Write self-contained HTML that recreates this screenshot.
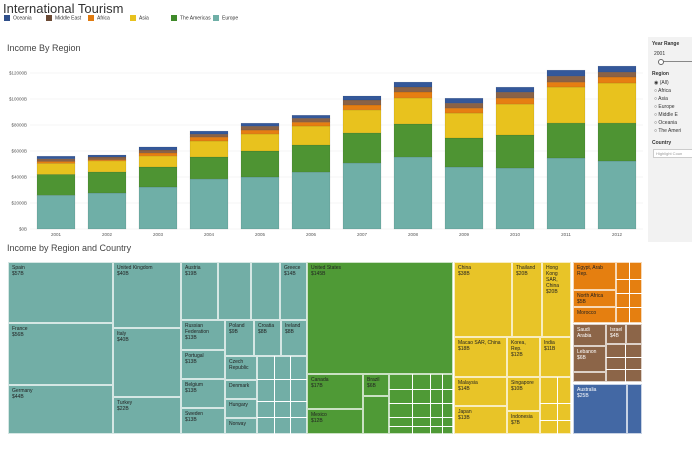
<!DOCTYPE html>
<html><head><meta charset="utf-8"><style>
body{margin:0;width:692px;height:449px;background:#fff;font-family:"Liberation Sans",sans-serif;position:relative;overflow:hidden}
.a{position:absolute}
.t{position:absolute;font-size:5px;color:#222;line-height:6px;padding:2px 3px;box-sizing:border-box;overflow:hidden;border:1px solid rgba(255,255,255,.7)}
.lg{position:absolute;top:15px;font-size:5px;color:#333}
.lg i{display:inline-block;width:6px;height:6px;vertical-align:middle;margin-right:3px}
.rp{position:absolute;font-size:5px;color:#333}
</style></head><body>
<div class="a" style="left:3px;top:1px;font-size:13px;color:#333">International Tourism</div>
<div class="lg" style="left:4px"><i style="background:#2f4f8a"></i>Oceania</div>
<div class="lg" style="left:46px"><i style="background:#6b4a35"></i>Middle East</div>
<div class="lg" style="left:88px"><i style="background:#e07b10"></i>Africa</div>
<div class="lg" style="left:130px"><i style="background:#e8c21e"></i>Asia</div>
<div class="lg" style="left:171px"><i style="background:#3f8a2a"></i>The Americas</div>
<div class="lg" style="left:213px"><i style="background:#6fafa7"></i>Europe</div>
<div class="a" style="left:7px;top:43px;font-size:9px;color:#444">Income By Region</div>
<div class="a" style="left:7px;top:243px;font-size:9px;color:#444">Income by Region and Country</div>

<div class="a" style="left:648px;top:37px;width:44px;height:205px;background:#f2f2f2"></div>
<div class="rp" style="left:652px;top:41px;font-weight:bold">Year Range</div>
<div class="rp" style="left:654px;top:51px">2001</div>
<div class="a" style="left:660px;top:61px;width:32px;height:1px;background:#888"></div>
<div class="a" style="left:658px;top:59px;width:4px;height:4px;border:1px solid #666;border-radius:50%;background:#fff"></div>
<div class="rp" style="left:652px;top:71px;font-weight:bold">Region</div>
<div class="rp" style="left:654px;top:80px">◉ (All)</div>
<div class="rp" style="left:654px;top:88px">○ Africa</div>
<div class="rp" style="left:654px;top:96px">○ Asia</div>
<div class="rp" style="left:654px;top:104px">○ Europe</div>
<div class="rp" style="left:654px;top:112px">○ Middle E</div>
<div class="rp" style="left:654px;top:120px">○ Oceania</div>
<div class="rp" style="left:654px;top:128px">○ The Ameri</div>
<div class="rp" style="left:652px;top:140px;font-weight:bold">Country</div>
<div class="rp" style="left:653px;top:149px;width:38px;height:7px;background:#fff;border:1px solid #ccc;color:#999;font-size:4px;line-height:7px;padding-left:2px">Highlight Coun</div>

<svg class="a" style="left:0;top:0" width="692" height="240" id="bc"></svg>

<div id="tm">
<!-- Europe -->
<div class="t" style="left:8px;top:262px;width:105px;height:61px;background:#72aea6">Spain<br>$57B</div>
<div class="t" style="left:8px;top:323px;width:105px;height:62px;background:#72aea6">France<br>$56B</div>
<div class="t" style="left:8px;top:385px;width:105px;height:49px;background:#72aea6">Germany<br>$44B</div>
<div class="t" style="left:113px;top:262px;width:68px;height:66px;background:#72aea6">United Kingdom<br>$40B</div>
<div class="t" style="left:113px;top:328px;width:68px;height:69px;background:#72aea6">Italy<br>$40B</div>
<div class="t" style="left:113px;top:397px;width:68px;height:37px;background:#72aea6">Turkey<br>$22B</div>
<div class="t" style="left:181px;top:262px;width:37px;height:58px;background:#72aea6">Austria<br>$19B</div>
<div class="t" style="left:218px;top:262px;width:33px;height:58px;background:#72aea6"></div>
<div class="t" style="left:251px;top:262px;width:29px;height:58px;background:#72aea6"></div>
<div class="t" style="left:280px;top:262px;width:27px;height:58px;background:#72aea6">Greece<br>$14B</div>
<div class="t" style="left:181px;top:320px;width:44px;height:30px;background:#72aea6">Russian Federation<br>$13B</div>
<div class="t" style="left:181px;top:350px;width:44px;height:29px;background:#72aea6">Portugal<br>$13B</div>
<div class="t" style="left:181px;top:379px;width:44px;height:29px;background:#72aea6">Belgium<br>$13B</div>
<div class="t" style="left:181px;top:408px;width:44px;height:26px;background:#72aea6">Sweden<br>$13B</div>
<div class="t" style="left:225px;top:320px;width:29px;height:36px;background:#72aea6">Poland<br>$9B</div>
<div class="t" style="left:254px;top:320px;width:27px;height:36px;background:#72aea6">Croatia<br>$8B</div>
<div class="t" style="left:281px;top:320px;width:26px;height:36px;background:#72aea6">Ireland<br>$8B</div>
<div class="t" style="left:225px;top:356px;width:32px;height:24px;background:#72aea6">Czech Republic</div>
<div class="t" style="left:225px;top:380px;width:32px;height:19px;background:#72aea6">Denmark</div>
<div class="t" style="left:225px;top:399px;width:32px;height:19px;background:#72aea6">Hungary</div>
<div class="t" style="left:225px;top:418px;width:32px;height:16px;background:#72aea6">Norway</div>
<div class="t" style="left:257px;top:356px;width:50px;height:78px;background:#72aea6;background-image:linear-gradient(90deg,transparent 16px,#fff 16px,#fff 17px,transparent 17px,transparent 32px,#fff 32px,#fff 33px,transparent 33px),linear-gradient(transparent 22px,#fff 22px,#fff 23px,transparent 23px,transparent 44px,#fff 44px,#fff 45px,transparent 45px,transparent 60px,#fff 60px,#fff 61px,transparent 61px)"></div>
<!-- Americas -->
<div class="t" style="left:307px;top:262px;width:146px;height:112px;background:#4f9a36">United States<br>$145B</div>
<div class="t" style="left:307px;top:374px;width:56px;height:35px;background:#4f9a36">Canada<br>$17B</div>
<div class="t" style="left:307px;top:409px;width:56px;height:25px;background:#4f9a36">Mexico<br>$12B</div>
<div class="t" style="left:363px;top:374px;width:26px;height:22px;background:#4f9a36">Brazil<br>$6B</div>
<div class="t" style="left:363px;top:396px;width:26px;height:38px;background:#4f9a36"></div>
<div class="t" style="left:389px;top:374px;width:64px;height:60px;background:#4f9a36;background-image:linear-gradient(90deg,transparent 22px,#fff 22px,#fff 23px,transparent 23px,transparent 40px,#fff 40px,#fff 41px,transparent 41px,transparent 52px,#fff 52px,#fff 53px,transparent 53px),linear-gradient(transparent 14px,#fff 14px,#fff 15px,transparent 15px,transparent 28px,#fff 28px,#fff 29px,transparent 29px,transparent 42px,#fff 42px,#fff 43px,transparent 43px,transparent 51px,#fff 51px,#fff 52px,transparent 52px)"></div>
<!-- Asia -->
<div class="t" style="left:454px;top:262px;width:58px;height:75px;background:#e8c428">China<br>$38B</div>
<div class="t" style="left:512px;top:262px;width:30px;height:75px;background:#e8c428">Thailand<br>$20B</div>
<div class="t" style="left:542px;top:262px;width:29px;height:75px;background:#e8c428">Hong Kong SAR, China<br>$20B</div>
<div class="t" style="left:454px;top:337px;width:53px;height:40px;background:#e8c428">Macao SAR, China<br>$18B</div>
<div class="t" style="left:507px;top:337px;width:33px;height:40px;background:#e8c428">Korea, Rep.<br>$12B</div>
<div class="t" style="left:540px;top:337px;width:31px;height:40px;background:#e8c428">India<br>$11B</div>
<div class="t" style="left:454px;top:377px;width:53px;height:29px;background:#e8c428">Malaysia<br>$14B</div>
<div class="t" style="left:454px;top:406px;width:53px;height:28px;background:#e8c428">Japan<br>$13B</div>
<div class="t" style="left:507px;top:377px;width:33px;height:34px;background:#e8c428">Singapore<br>$10B</div>
<div class="t" style="left:507px;top:411px;width:33px;height:23px;background:#e8c428">Indonesia<br>$7B</div>
<div class="t" style="left:540px;top:377px;width:31px;height:57px;background:#e8c428;background-image:linear-gradient(90deg,transparent 16px,#fff 16px,#fff 17px,transparent 17px),linear-gradient(transparent 25px,#fff 25px,#fff 26px,transparent 26px,transparent 42px,#fff 42px,#fff 43px,transparent 43px)"></div>
<!-- Africa -->
<div class="t" style="left:573px;top:262px;width:43px;height:28px;background:#e57f10">Egypt, Arab Rep.</div>
<div class="t" style="left:573px;top:290px;width:43px;height:17px;background:#e57f10">North Africa<br>$5B</div>
<div class="t" style="left:573px;top:307px;width:43px;height:16px;background:#e57f10">Morocco</div>
<div class="t" style="left:616px;top:262px;width:26px;height:61px;background:#e57f10;background-image:linear-gradient(90deg,transparent 12px,#fff 12px,#fff 13px,transparent 13px),linear-gradient(transparent 16px,#fff 16px,#fff 17px,transparent 17px,transparent 30px,#fff 30px,#fff 31px,transparent 31px,transparent 44px,#fff 44px,#fff 45px,transparent 45px)"></div>
<!-- Middle East -->
<div class="t" style="left:573px;top:324px;width:33px;height:22px;background:#8c6548;color:#fff">Saudi Arabia</div>
<div class="t" style="left:573px;top:346px;width:33px;height:26px;background:#8c6548;color:#fff">Lebanon<br>$6B</div>
<div class="t" style="left:573px;top:372px;width:33px;height:10px;background:#8c6548"></div>
<div class="t" style="left:606px;top:324px;width:20px;height:20px;background:#8c6548;color:#fff">Israel<br>$4B</div>
<div class="t" style="left:606px;top:344px;width:36px;height:38px;background:#8c6548;background-image:linear-gradient(90deg,transparent 18px,#fff 18px,#fff 19px,transparent 19px),linear-gradient(transparent 12px,#fff 12px,#fff 13px,transparent 13px,transparent 24px,#fff 24px,#fff 25px,transparent 25px)"></div>
<div class="t" style="left:626px;top:324px;width:16px;height:20px;background:#8c6548"></div>
<!-- Oceania -->
<div class="t" style="left:573px;top:384px;width:54px;height:50px;background:#4368a4;color:#fff">Australia<br>$25B</div>
<div class="t" style="left:627px;top:384px;width:15px;height:50px;background:#4368a4"></div>
</div>

<script>
const years=["2001","2002","2003","2004","2005","2006","2007","2008","2009","2010","2011","2012"];
const europe=[2600,2770,3230,3850,4000,4380,5080,5540,4770,4690,5460,5230];
const americas=[1600,1620,1540,1690,2000,2080,2310,2540,2230,2540,2690,2920];
const asia=[850,850,850,1230,1310,1460,1770,2000,1920,2380,2770,3080];
const africa=[150,100,230,300,300,300,380,460,380,460,380,460];
const middleEast=[200,200,230,230,300,300,380,380,380,460,460,380];
const oceania=[200,150,230,230,230,230,310,380,380,380,460,460];
const tickValues=[0,2000,4000,6000,8000,10000,12000];
const tickLabels=["$0B","$2000B","$4000B","$6000B","$8000B","$10000B","$12000B"];
const NS="http://www.w3.org/2000/svg";
const svg=document.getElementById('bc');
const yBase=229,pxPer=13/1000,x0=30.5,step=51,bw=38;
function y(v){return yBase-v*pxPer;}
function xc(i){return x0+step*i+step/2;}
tickValues.forEach((v,i)=>{
  const l=document.createElementNS(NS,'line');
  l.setAttribute('x1',30);l.setAttribute('x2',643);l.setAttribute('y1',y(v));l.setAttribute('y2',y(v));
  l.setAttribute('stroke','#eee');l.setAttribute('stroke-width','0.6');
  
  
  svg.appendChild(l);
  const t=document.createElementNS(NS,'text');
  t.setAttribute('x',27);t.setAttribute('y',y(v)+1.5);t.setAttribute('text-anchor','end');
  t.setAttribute('font-size','4.5');t.setAttribute('fill','#555');t.setAttribute('font-family','Liberation Sans, sans-serif');
  t.textContent=tickLabels[i];
  
  
  svg.appendChild(t);
});
const series=[["europe",europe,"#6fafa7"],["americas",americas,"#4e9433"],["asia",asia,"#e8c21e"],["africa",africa,"#e67e12"],["middle-east",middleEast,"#8a6246"],["oceania",oceania,"#34589a"]];
years.forEach((yr,i)=>{
  let acc=0;
  series.forEach(s=>{
    const v=s[1][i];
    const r=document.createElementNS(NS,'rect');
    r.setAttribute('x',xc(i)-bw/2);r.setAttribute('width',bw);
    r.setAttribute('y',y(acc+v));r.setAttribute('height',v*pxPer);
    r.setAttribute('fill',s[2]);r.setAttribute('stroke','rgba(0,0,0,0.15)');r.setAttribute('stroke-width','0.5');
    
    
    svg.appendChild(r);
    acc+=v;
  });
  const t=document.createElementNS(NS,'text');
  t.setAttribute('x',xc(i));t.setAttribute('y',236);t.setAttribute('text-anchor','middle');
  t.setAttribute('font-size','4.5');t.setAttribute('fill','#555');t.setAttribute('font-family','Liberation Sans, sans-serif');
  t.textContent=yr;
  
  
  svg.appendChild(t);
});
</script>
</body></html>
